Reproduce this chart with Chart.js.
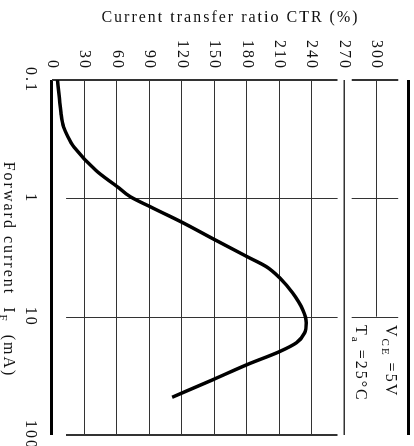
<!DOCTYPE html>
<html>
<head>
<meta charset="utf-8">
<script src="https://cdn.jsdelivr.net/npm/chart.js@4.4.0/dist/chart.umd.min.js"></script>
<style>
  html, body { margin: 0; padding: 0; background: #fff; }
  #wrap { position: relative; width: 414px; height: 446px; overflow: hidden; }
  /* chart is drawn upright and turned a quarter clockwise */
  #ctrChart { position: absolute; left: 0; top: 0; transform-origin: 0 0; transform: translate(414px, 0) rotate(90deg); }
</style>
</head>
<body>
<div id="wrap"><canvas id="ctrChart" width="446" height="414"></canvas></div>
<script>
// CTR vs forward current curve
const forwardCurrent = [0.1, 0.138, 0.19, 0.25, 0.3, 0.37, 0.58, 0.8, 0.97, 1.18, 1.6, 2.2, 3.1, 3.8, 4.7, 6.3, 8.8, 11.3, 13.7, 16.6, 19.7, 25.5, 34, 48];
const ctrPercent = [5, 6.7, 8.3, 10.8, 14.5, 20.5, 40.5, 60.5, 72.5, 91, 120.5, 149, 180, 198.5, 210.5, 222.5, 232, 235, 233.5, 226, 210.5, 180, 149, 111];

const currentTicks = [0.1, 1, 10, 100];
const ctrTicks = [0, 30, 60, 90, 120, 150, 180, 210, 240, 270, 300, 330];

const conditionLines = [
    [{ t: 'V' }, { t: 'CE', sub: true }, { t: ' =5V' }],
    [{ t: 'T' }, { t: 'a', sub: true }, { t: ' =25°C' }]
];
const xTitle = [{ t: 'Forward current  I' }, { t: 'F', sub: true }, { t: '  (mA)' }];

const FONT = "'Liberation Serif', 'DejaVu Serif', serif";
Chart.defaults.font.family = FONT;
Chart.defaults.font.size = 16;
Chart.defaults.color = '#111';

function runsWidth(ctx, runs, size) {
    let w = 0;
    runs.forEach(r => {
        ctx.font = (r.sub ? Math.round(size * 0.7) : size) + 'px ' + FONT;
        w += ctx.measureText(r.t).width;
    });
    return w;
}
function drawRuns(ctx, x, y, runs, size) {
    let cx = x;
    runs.forEach(r => {
        ctx.font = (r.sub ? Math.round(size * 0.7) : size) + 'px ' + FONT;
        ctx.fillText(r.t, cx, y + (r.sub ? size * 0.28 : 0));
        cx += ctx.measureText(r.t).width;
    });
}

const spacing = {
    id: 'spacing',
    beforeUpdate(chart) { chart.ctx.letterSpacing = '2px'; },
    beforeDraw(chart) { chart.ctx.letterSpacing = '2px'; }
};

const frame = {
    id: 'frame',
    beforeDatasetsDraw(chart) {
        const { ctx, scales: { x, y } } = chart;
        ctx.save();
        ctx.strokeStyle = '#333';
        const seg = (val, from, to, w) => {
            let px = x.getPixelForValue(val);
            if (w % 2 === 1) px = Math.round(px) + 0.5;
            ctx.lineWidth = w;
            ctx.beginPath();
            ctx.moveTo(px, y.getPixelForValue(from));
            ctx.lineTo(px, y.getPixelForValue(to));
            ctx.stroke();
        };
        // current lines, broken before the 270 line and the box edge
        seg(0.1, 0, 264, 2); seg(0.1, 277, 320, 2);
        seg(1, 13, 264, 1); seg(1, 277, 320, 1);
        seg(10, 13, 264, 1); seg(10, 277, 320, 1);
        seg(100, 13, 264, 2);
        // 300 % line stops at the conditions box
        const py = Math.round(y.getPixelForValue(300)) + 0.5;
        ctx.lineWidth = 1;
        ctx.beginPath();
        ctx.moveTo(x.getPixelForValue(0.1), py);
        ctx.lineTo(x.getPixelForValue(10), py);
        ctx.stroke();
        ctx.restore();
    },
    afterDraw(chart) {
        const { ctx, chartArea } = chart;
        ctx.save();
        ctx.fillStyle = '#111';
        ctx.textBaseline = 'alphabetic';
        ctx.textAlign = 'left';
        const w = runsWidth(ctx, xTitle, 16);
        const cx = (chartArea.left + chartArea.right) / 2 + 12;
        drawRuns(ctx, cx - w / 2, 410, xTitle, 16);
        drawRuns(ctx, 325, 28, conditionLines[0], 16);
        drawRuns(ctx, 325, 58, conditionLines[1], 16);
        ctx.restore();
    }
};

new Chart(document.getElementById('ctrChart'), {
    type: 'line',
    data: {
        datasets: [{
            data: forwardCurrent.map((v, i) => ({ x: v, y: ctrPercent[i] })),
            borderColor: '#000',
            borderWidth: 3.5,
            pointRadius: 0,
            fill: false,
            cubicInterpolationMode: 'monotone'
        }]
    },
    options: {
        responsive: false,
        animation: false,
        devicePixelRatio: 1,
        layout: { padding: { top: 5, right: 11, left: 0, bottom: 0 } },
        plugins: { legend: { display: false }, tooltip: { enabled: false } },
        scales: {
            x: {
                type: 'logarithmic',
                min: 0.1,
                max: 100,
                grid: { display: false },
                border: { display: false },
                afterBuildTicks: s => { s.ticks = currentTicks.map(v => ({ value: v })); },
                ticks: { padding: 4, maxRotation: 0, autoSkip: false, callback: v => String(v) },
                afterFit: s => { s.height = 52; s.paddingLeft = 0; s.paddingRight = 0; }
            },
            y: {
                type: 'linear',
                min: 0,
                max: 330,
                afterBuildTicks: s => { s.ticks = ctrTicks.map(v => ({ value: v })); },
                ticks: { padding: 10, callback: v => (v === 330 ? '' : String(v)) },
                grid: {
                    drawTicks: false,
                    color: c => (c.tick.value === 300 ? 'rgba(0,0,0,0)' : (c.tick.value === 0 || c.tick.value === 330 ? '#000' : '#333')),
                    lineWidth: c => (c.tick.value === 0 || c.tick.value === 330 ? 3 : (c.tick.value === 270 ? 1.5 : 1))
                },
                border: { display: false },
                title: { display: true, text: 'Current transfer ratio CTR (%)', padding: { top: 8, bottom: 0 }, font: { size: 16 } },
                afterFit: s => { s.width = 80; s.paddingTop = 0; s.paddingBottom = 0; }
            }
        }
    },
    plugins: [spacing, frame]
});
</script>
</body>
</html>
